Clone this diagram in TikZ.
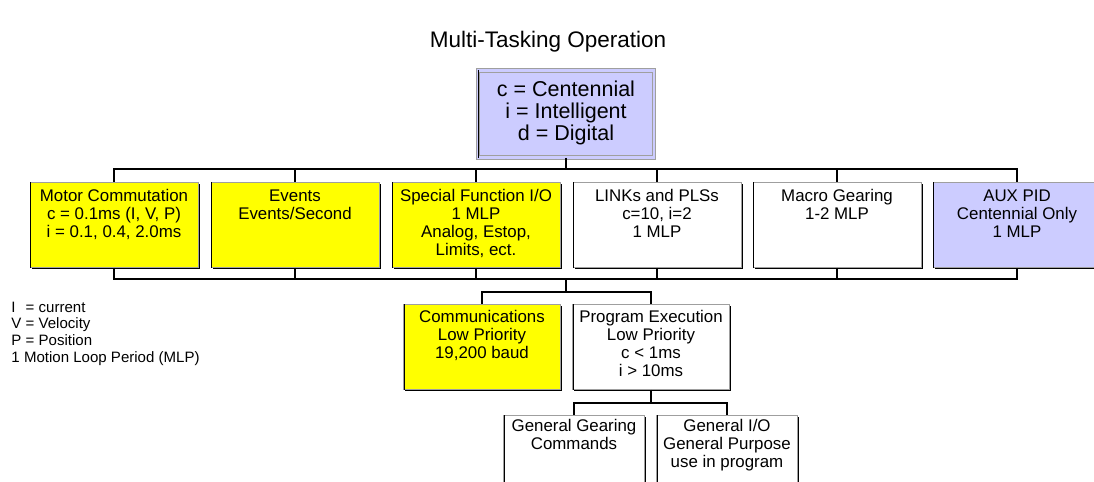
\documentclass[tikz,border=0pt]{standalone}
\usepackage{fontspec}
\setmainfont{Liberation Sans}
\usetikzlibrary{shadows}
\definecolor{boxyellow}{RGB}{255,255,0}
\definecolor{boxlilac}{RGB}{204,204,255}
% top-aligned text block inside a box: width, height, first-line strut, text
\newcommand{\boxtext}[4]{\parbox[t][#2][t]{#1}{\centering\rule{0pt}{#3}#4}}

\begin{document}
\begin{tikzpicture}[
    box/.style={rectangle, draw=gray!75, line width=0.6pt, inner sep=0pt, anchor=north,
        font=\fontsize{12}{12.8}\selectfont,
        drop shadow={shadow xshift=1.2pt, shadow yshift=-1.2pt, fill=black, opacity=1},
        append after command={([xshift=0.9pt]\tikzlastnode.north west) edge[draw=black, line width=0.9pt] ([xshift=0.9pt]\tikzlastnode.south west)}},
    topbox/.style={fill=boxlilac, double=boxlilac, double distance=2pt, font=\fontsize{15.3}{15.6}\selectfont},
    link/.style={draw=black, line width=0.75pt}
]
\useasboundingbox (0,0) rectangle (27.35,-12.025);
\clip (0,0) rectangle (27.35,-12.025);

\node[font=\fontsize{16}{19}\selectfont] (title) at (13.7,-1.05) {Multi-Tasking Operation};

\node[box, topbox] (codes) at (14.15,-1.75) {\boxtext{4.4cm}{2.175cm}{18.3pt}{c = Centennial\\ i = Intelligent\\ d = Digital}};

% first level
\node[box, fill=boxyellow] (motor) at (2.85,-4.55) {\boxtext{4.2cm}{2.125cm}{13.5pt}{Motor Commutation\\ c = 0.1ms (I, V, P)\\ i = 0.1, 0.4, 2.0ms}};
\node[box, fill=boxyellow] (events) at (7.375,-4.55) {\boxtext{4.2cm}{2.125cm}{13.5pt}{Events\\ Events/Second}};
\node[box, fill=boxyellow] (special) at (11.9,-4.55) {\boxtext{4.2cm}{2.125cm}{13.5pt}{Special Function I/O\\ 1 MLP\\ Analog, Estop,\\ Limits, ect.}};
\node[box, fill=white] (links) at (16.425,-4.55) {\boxtext{4.2cm}{2.125cm}{13.5pt}{LINKs and PLSs\\ c=10, i=2\\ 1 MLP}};
\node[box, fill=white] (macro) at (20.925,-4.55) {\boxtext{4.2cm}{2.125cm}{13.5pt}{Macro Gearing\\ 1-2 MLP}};
\node[box, fill=boxlilac] (aux) at (25.425,-4.55) {\boxtext{4.2cm}{2.125cm}{13.5pt}{AUX PID\\ Centennial Only\\ 1 MLP}};

\coordinate (bus1) at (14.15,-4.225);
\draw[link] (codes.south) -- (bus1);
\foreach \n in {motor,events,special,links,macro,aux} {
    \draw[link] (bus1) -| (\n.north);
}

% second level
\node[box, fill=boxyellow] (comm) at (12.05,-7.6) {\boxtext{3.925cm}{2.125cm}{12.8pt}{Communications\\ Low Priority\\ 19,200 baud}};
\node[box, fill=white] (prog) at (16.275,-7.6) {\boxtext{3.925cm}{2.125cm}{12.8pt}{Program Execution\\ Low Priority\\ c < 1ms\\ i > 10ms}};

\coordinate (bus2) at (14.15,-6.975);
\coordinate (split2) at (14.15,-7.3);
\foreach \n in {motor,events,special,links,macro,aux} {
    \draw[link] (\n.south) |- (bus2);
}
\draw[link] (bus2) -- (split2);
\draw[link] (split2) -| (comm.north);
\draw[link] (split2) -| (prog.north);

% third level
\node[box, fill=white] (gear) at (14.35,-10.375) {\boxtext{3.525cm}{2.125cm}{11.5pt}{General Gearing\\ Commands}};
\node[box, fill=white] (genio) at (18.175,-10.375) {\boxtext{3.525cm}{2.125cm}{11.5pt}{General I/O\\ General Purpose\\ use in program}};

\coordinate (split3) at (16.275,-10.075);
\draw[link] (prog.south) -- (split3);
\draw[link] (split3) -| (gear.north);
\draw[link] (split3) -| (genio.north);

\node[anchor=north west, align=left, inner sep=0pt, font=\fontsize{10.7}{11.8}\selectfont] (legend) at (0.28,-7.54) {\rlap{I}\hphantom{V} = current\\ V = Velocity\\ P = Position\\ 1 Motion Loop Period (MLP)};
\end{tikzpicture}
\end{document}
